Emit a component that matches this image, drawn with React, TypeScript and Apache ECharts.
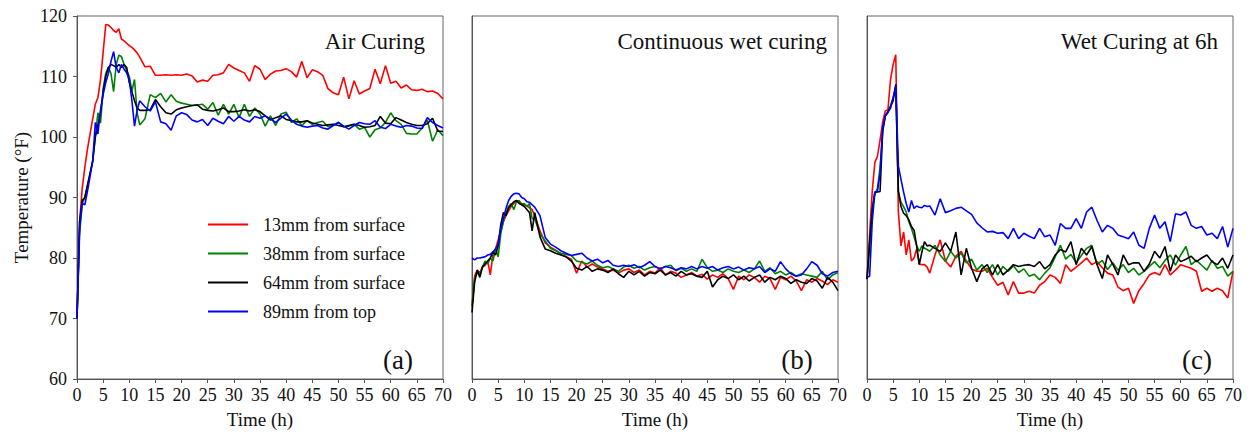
import React, { useEffect, useRef } from "react";
import * as echarts from "echarts";

const FONT = '"Liberation Serif", "Times New Roman", serif';

// Time axis (h): half-hour steps to 12 h, then hourly
const time = [
  0, 0.5, 1, 1.5, 2, 2.5, 3, 3.5, 4, 4.5, 5, 5.5, 6, 6.5, 7, 7.5, 8, 8.5, 9, 9.5, 10, 10.5, 11, 11.5, 12,
  13, 14, 15, 16, 17, 18, 19, 20, 21, 22,
  23, 24, 25, 26, 27, 28, 29, 30, 31, 32,
  33, 34, 35, 36, 37, 38, 39, 40, 41, 42,
  43, 44, 45, 46, 47, 48, 49, 50, 51, 52,
  53, 54, 55, 56, 57, 58, 59, 60, 61, 62,
  63, 64, 65, 66, 67, 68, 69, 70,
];

const seriesNames = ["13mm from surface", "38mm from surface", "64mm from surface", "89mm from top"];
const seriesColors = ["#ff0000", "#008000", "#000000", "#0000ff"];
const panelTitles = ["Air Curing", "Continuous wet curing", "Wet Curing at 6h"];
const panelTags = ["(a)", "(b)", "(c)"];
const yTicks = [60, 70, 80, 90, 100, 110, 120];
const xTicks = [0, 5, 10, 15, 20, 25, 30, 35, 40, 45, 50, 55, 60, 65, 70];

// (a) Air curing
const airRed = [
  70, 86, 91.5, 95, 98, 100.5, 103, 105.4, 106.5, 109.5, 114, 118.6, 118.5, 118.1, 117.6, 117.3, 117.9, 116.2, 115.9, 115.5, 115.1, 114.8, 114.4, 113.9, 113.2,
  111.6, 111.7, 110.2, 110.2, 110.3, 110.2, 110.3, 110.2, 110.4, 110.1,
  109.1, 109.4, 109.2, 110.2, 110.3, 110.6, 112.0, 111.4, 111.0, 110.6,
  109.2, 111.8, 111.2, 109.5, 110.4, 110.9, 111.0, 111.3, 110.8, 109.9,
  112.5, 109.8, 111.1, 110.8, 110.2, 108.0, 107.3, 107.0, 109.9, 106.3,
  109.3, 107.1, 107.6, 108.0, 111.2, 108.8, 111.8, 108.9, 109.2, 108.1,
  108.6, 107.8, 107.7, 107.9, 107.5, 107.6, 107.2, 106.3,
];
const airGreen = [
  70, 84, 89, 90, 92, 94, 96, 100, 104, 102.3, 108, 110.5, 111.5, 110.5, 107.5, 112, 113.5, 113.3, 112, 111, 110, 107.6, 109.5, 104, 102,
  103, 107, 106.5, 107.2, 105.8, 107, 105.9, 105.6, 105.4, 105.2,
  105.3, 105.4, 104.6, 105.7, 103.6, 105.4, 103.8, 105.4, 103.2, 105.4,
  103.4, 104.8, 103.8, 101.8, 103.5, 101.9, 103.8, 104.1, 102.4, 103.0,
  101.9, 102.7, 102.1, 102.4, 102.6, 101.7, 102.0, 102.4, 101.7, 101.8,
  102.1, 101.3, 101.6, 100.0, 101.2, 101.5, 102.4, 104.0, 102.7, 102.1,
  100.6, 100.5, 100.5, 101.5, 102.8, 99.3, 101.2, 100.2,
];
const airBlack = [
  70, 86, 89.5, 90, 92, 94, 96, 100, 102, 104, 107.5, 110, 111.5, 112, 111.8, 111.5, 112, 111.5, 112, 111.5, 109, 107.5, 106, 104.8, 104.4,
  104.4, 104.5, 106.2, 105.0, 104.0, 103.8, 104.5, 104.8, 105.0, 105.2,
  105.3, 104.6, 104.4, 104.3, 104.5, 104.8, 104.2, 104.2, 104.3, 104.5,
  104.3, 104.5, 104.2, 103.5, 102.8, 103.2, 103.5, 102.9, 102.7, 102.5,
  102.5, 102.7, 102.3, 102.1, 101.9, 102.0, 102.1, 101.9, 101.7, 101.9,
  102.1, 101.9, 101.6, 101.7, 101.9, 103.4, 102.3, 102.2, 103.2, 102.8,
  102.4, 102.1, 101.9, 101.9, 102.2, 103.1, 101.0, 100.9,
];
const airBlue = [
  70, 85, 89, 88.8, 91, 93.5, 96, 102.4, 100.5, 104.5, 107, 109, 110.5, 112.5, 114.1, 111.5, 110.6, 112, 111.2, 110.6, 109.5, 106, 101.8, 104.5, 106,
  105.0, 104.3, 105.8, 102.5, 102.2, 101.1, 103.5, 104.0, 103.7, 102.8,
  102.5, 102.9, 101.9, 103.1, 102.6, 102.2, 103.4, 102.6, 103.4, 102.8,
  102.5, 103.4, 103.1, 103.5, 103.0, 102.4, 103.1, 103.8, 102.8, 102.1,
  101.8, 101.6, 101.8, 101.9, 101.5, 101.3, 101.9, 102.4, 101.8, 101.3,
  101.9, 102.4, 102.2, 102.1, 102.7, 101.6, 101.4, 102.1, 101.8, 101.6,
  101.9, 101.8, 101.5, 101.4, 103.2, 102.4, 101.9, 101.5,
];

// (b) Continuous wet curing
const wetRed = [
  72, 77, 78, 77.5, 78.5, 78.8, 79.5, 77.2, 80.5, 81.5, 83, 84.5, 86, 87, 87.8, 88.5, 89, 89.5, 89.3, 89, 88.8, 88.6, 88.3, 88, 87,
  84.5, 82.5, 81.8, 81.3, 80.6, 80.2, 79.8, 77.5, 79.5, 78.5,
  79.0, 78.5, 78.2, 77.8, 78.0, 77.5, 78.0, 78.2, 77.6, 78.0,
  77.2, 77.8, 77.5, 78.4, 77.2, 77.8, 77.5, 76.8, 77.2, 77.6,
  77.0, 77.3, 76.5, 77.2, 76.8, 77.4, 76.6, 74.8, 77.0, 76.4,
  77.2, 76.8, 76.0, 77.0, 76.6, 74.8, 76.8, 76.4, 77.0, 76.2,
  74.6, 76.4, 76.0, 76.6, 76.2, 75.6, 76.4, 76.0,
];
const wetGreen = [
  72, 76.5, 77.5, 77.5, 78.5, 79.5, 79, 80, 79.5, 81.5, 80.2, 84, 86, 87.5, 88.5, 89, 88, 89.3, 89.5, 88.8, 89, 88.5, 89, 86.5, 86.5,
  84.0, 82.8, 81.6, 81.2, 80.8, 80.6, 80.4, 79.5, 79.3, 79.0,
  79.5, 78.8, 78.4, 78.6, 78.2, 77.8, 78.5, 78.8, 78.3, 78.6,
  78.0, 78.4, 78.6, 78.2, 78.6, 78.8, 77.9, 78.3, 77.8, 78.2,
  77.8, 79.8, 78.4, 77.8, 78.0, 77.6, 78.2, 77.8, 77.6, 78.0,
  77.6, 78.2, 79.5, 77.8, 78.4, 77.4, 77.8, 77.2, 77.6, 77.0,
  77.4, 77.2, 77.0, 76.8, 77.8, 76.4, 77.2, 77.6,
];
const wetBlack = [
  71, 76, 78, 76.8, 78.5, 79, 79.5, 80, 81, 80.5, 82, 85.5, 87.5, 87, 88.3, 88.8, 89.3, 89.5, 89, 88.8, 88.5, 88, 87.5, 84.5, 87.5,
  83.5, 81.5, 81.2, 80.8, 80.5, 80.2, 79.5, 78.3, 78.0, 78.6,
  77.8, 78.2, 78.0, 77.6, 78.2, 77.4, 76.8, 77.8, 77.2, 77.8,
  77.0, 77.6, 77.4, 78.0, 77.2, 77.6, 77.0, 77.8, 77.2, 77.4,
  77.0, 76.8, 77.8, 75.2, 76.4, 77.0, 76.6, 77.2, 76.4, 77.0,
  76.2, 76.8, 77.2, 76.0, 76.8, 76.4, 77.0, 76.6, 75.8, 76.4,
  76.0, 75.8, 76.6, 76.2, 75.0, 76.8, 76.0, 74.6,
];
const wetBlue = [
  80, 79.7, 80, 80, 80.1, 80.2, 80.5, 80.6, 81, 81.5, 82.2, 84.8, 86.5, 88.2, 89.5, 90.2, 90.6, 90.7, 90.6, 90.0, 89.8, 89.3, 89.2, 88.8, 88.4,
  87.0, 83.4, 82.3, 81.8, 81.2, 80.8, 80.4, 80.6, 80.8, 80.0,
  79.5, 79.8, 79.2, 79.6, 78.8, 78.6, 78.8, 78.6, 78.9, 78.4,
  78.8, 79.4, 78.6, 78.2, 78.6, 78.4, 78.0, 78.4, 78.2, 78.6,
  78.2, 78.6, 78.3, 78.6, 78.0, 78.4, 78.6, 78.2, 78.5, 78.0,
  78.4, 78.2, 78.6, 77.6, 78.2, 77.8, 79.4, 78.2, 77.4, 77.0,
  77.2, 78.2, 79.4, 78.8, 77.4, 77.0, 77.6, 77.8,
];

// (c) Wet curing at 6 h
const sixRed = [
  76.5, 84, 91, 95.8, 96.8, 99.5, 102.5, 104.3, 104.5, 109.5, 112, 113.6, 87.6, 82, 84.3, 80.5, 83, 79.5, 80, 81.5, 79, 78.9, 78.9, 78.5, 77.5,
  80.5, 83.0, 79.5, 78.5, 80.3, 81.1, 79.5, 78.2, 77.8, 77.8,
  78.3, 76.8, 75.5, 76.0, 73.9, 76.1, 74.2, 74.2, 74.5, 74.2,
  75.5, 76.1, 77.2, 76.8, 75.8, 78.9, 77.8, 78.5, 79.2, 80.0,
  78.9, 79.4, 78.4, 77.5, 77.2, 75.2, 74.6, 75.0, 72.5, 74.6,
  75.8, 77.2, 77.6, 77.2, 78.9, 77.2, 78.0, 78.9, 78.6, 78.3,
  77.8, 74.5, 75.0, 74.5, 75.0, 74.6, 73.4, 77.8,
];
const sixGreen = [
  76.5, 82, 88, 90.5, 91.5, 95, 101, 103.5, 104, 105.2, 106.5, 108.2, 91, 89.2, 88.5, 87.6, 86, 84.9, 83.5, 82, 81.1, 82, 81.6, 81.4, 81.1,
  82.1, 80.5, 79.4, 81.1, 80.0, 80.8, 79.2, 79.8, 78.0, 78.9,
  77.6, 78.9, 77.2, 78.6, 77.8, 78.7, 77.6, 78.2, 77.0, 77.3,
  76.4, 77.5, 78.4, 80.2, 82.1, 79.8, 80.6, 79.2, 80.4, 81.6,
  82.1, 78.9, 79.6, 78.1, 79.2, 78.0, 78.9, 77.6, 78.3, 77.2,
  77.8, 78.6, 79.4, 78.4, 79.6, 80.5, 78.8, 80.5, 81.9, 78.9,
  79.6, 78.8, 78.0, 79.6, 78.3, 78.6, 77.0, 77.8,
];
const sixBlack = [
  76.5, 82.5, 88, 90.9, 90.9, 91, 101, 103.5, 104.2, 105, 106, 108.7, 91, 88.5, 87.4, 87, 86.3, 85.2, 84.6, 82, 78.9, 81, 82.7, 82, 82.1,
  81.6, 81.1, 82.5, 81.1, 84.3, 77.2, 81.6, 78.3, 76.1, 78.2,
  78.9, 77.2, 78.9, 77.2, 78.0, 78.9, 78.6, 78.8, 78.9, 78.6,
  79.4, 78.2, 78.9, 80.5, 81.4, 81.0, 82.7, 78.9, 81.6, 80.5,
  81.9, 78.9, 76.6, 80.5, 79.0, 77.2, 80.5, 78.9, 79.2, 79.2,
  77.8, 79.0, 81.1, 80.0, 81.9, 77.8, 80.5, 79.4, 79.8, 80.3,
  79.4, 80.0, 80.5, 79.4, 78.9, 80.0, 78.3, 80.5,
];
const sixBlue = [
  76.8, 77, 86, 90.9, 91, 94, 101.5, 103.5, 104.1, 104.8, 106.5, 108.4, 95.2, 93, 90.9, 89, 87.6, 89.5, 88.2, 88.6, 88.4, 88.3, 88.7, 88.5, 88.6,
  87.1, 89.8, 87.5, 87.8, 88.2, 88.4, 87.8, 87.2, 85.8, 85.0,
  84.3, 84.4, 84.1, 84.2, 83.2, 84.9, 83.2, 84.1, 83.6, 83.2,
  84.9, 83.5, 83.8, 82.1, 85.7, 84.9, 84.9, 86.5, 84.9, 87.6,
  88.4, 86.2, 84.3, 85.4, 84.9, 83.8, 83.5, 83.2, 84.3, 82.1,
  81.6, 84.9, 87.1, 84.9, 86.0, 82.7, 87.3, 87.1, 87.6, 85.4,
  84.9, 85.2, 83.8, 84.1, 83.2, 85.2, 81.8, 84.9,
];

const panels = [
  [airRed, airGreen, airBlack, airBlue],
  [wetRed, wetGreen, wetBlack, wetBlue],
  [sixRed, sixGreen, sixBlack, sixBlue],
];

const gridLefts = [77, 472, 867];
const GRID_TOP = 16;
const GRID_W = 366;
const GRID_H = 365;

export default function App() {
  const ref = useRef<HTMLDivElement>(null);

  useEffect(() => {
    if (!ref.current) return;
    const chart = echarts.init(ref.current, undefined, { renderer: "svg" });

    const grids = gridLefts.map((left) => ({
      left,
      top: GRID_TOP,
      width: GRID_W,
      height: GRID_H,
      show: true,
      borderColor: "#666",
      borderWidth: 1,
      backgroundColor: "transparent",
    }));

    const xAxes = gridLefts.map((_, i) => ({
      type: "value",
      gridIndex: i,
      min: 0,
      max: 70,
      interval: 5,
      name: "Time (h)",
      nameLocation: "middle",
      nameGap: 31,
      nameTextStyle: { fontFamily: FONT, fontSize: 19, color: "#111" },
      axisLine: { show: true, onZero: false, lineStyle: { color: "#555", width: 1 } },
      axisTick: { show: true, inside: false, length: 4, lineStyle: { color: "#555" } },
      axisLabel: {
        fontFamily: FONT,
        fontSize: 18,
        color: "#111",
        margin: 7,
        showMinLabel: true,
        showMaxLabel: true,
        formatter: (v: number) => (xTicks.includes(v) ? String(v) : ""),
      },
      splitLine: { show: false },
    }));

    const yAxes = gridLefts.map((_, i) => ({
      type: "value",
      gridIndex: i,
      min: yTicks[0],
      max: yTicks[yTicks.length - 1],
      interval: 10,
      name: i === 0 ? "Temperature (°F)" : "",
      nameLocation: "middle",
      nameGap: 46,
      nameTextStyle: { fontFamily: FONT, fontSize: 19, color: "#111" },
      axisLine: { show: true, onZero: false, lineStyle: { color: "#555", width: 1 } },
      axisTick: { show: i === 0, inside: false, length: 4, lineStyle: { color: "#555" } },
      axisLabel: {
        show: i === 0,
        fontFamily: FONT,
        fontSize: 18,
        color: "#111",
        margin: 10,
      },
      splitLine: { show: false },
    }));

    const series: any[] = [];
    panels.forEach((vals, p) => {
      vals.forEach((arr, s) => {
        series.push({
          type: "line",
          name: seriesNames[s],
          xAxisIndex: p,
          yAxisIndex: p,
          data: time.map((t, k) => [t, arr[k]]),
          symbol: "none",
          showSymbol: false,
          lineStyle: { color: seriesColors[s], width: 1.6 },
          itemStyle: { color: seriesColors[s] },
          z: 2 + s,
        });
      });
    });

    const graphics: any[] = [];
    const titleRights = [425, 827, 1218];
    const tagCenters = [398, 797, 1197];
    panelTitles.forEach((t, i) => {
      graphics.push({
        type: "text",
        x: titleRights[i],
        y: 41,
        style: {
          text: t,
          font: `23px ${FONT}`,
          fill: "#111",
          textAlign: "right",
          textVerticalAlign: "middle",
          align: "right",
          verticalAlign: "middle",
        },
      });
      graphics.push({
        type: "text",
        x: tagCenters[i],
        y: 360,
        style: {
          text: panelTags[i],
          font: `27px ${FONT}`,
          fill: "#111",
          textAlign: "center",
          textVerticalAlign: "middle",
          align: "center",
          verticalAlign: "middle",
        },
      });
    });

    chart.setOption({
      animation: false,
      backgroundColor: "#ffffff",
      grid: grids,
      xAxis: xAxes,
      yAxis: yAxes,
      legend: {
        data: seriesNames,
        orient: "vertical",
        left: 208,
        top: 214,
        itemWidth: 40,
        itemHeight: 2,
        icon: "rect",
        itemGap: 8,
        padding: 0,
        textStyle: {
          fontFamily: FONT,
          fontSize: 18,
          color: "#111",
          lineHeight: 21,
          padding: [0, 0, 0, 10],
        },
        selectedMode: false,
      },
      series,
      graphic: graphics,
    });

    return () => chart.dispose();
  }, []);

  return (
    <div
      ref={ref}
      style={{ position: "absolute", left: 0, top: 0, width: 1250, height: 434 }}
    />
  );
}
